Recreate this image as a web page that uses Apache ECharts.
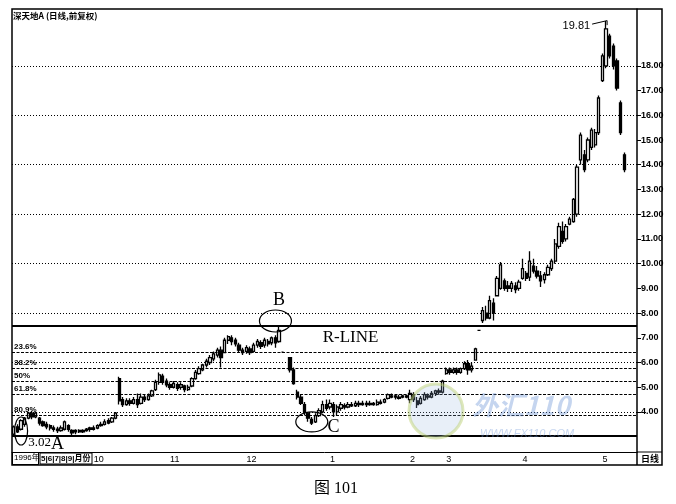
<!DOCTYPE html>
<html><head><meta charset="utf-8">
<script src="https://cdn.jsdelivr.net/npm/echarts@6/dist/echarts.min.js"></script>
<style>html,body{margin:0;padding:0;background:#fff}#c{width:676px;height:504px}</style>
</head><body><div id="c"></div>
<script>
// [open, close, low, high]
const barsSep = [
[3.10,3.40,3.02,3.45],[3.40,3.20,3.15,3.50],[3.30,3.65,3.25,3.70],[3.50,3.75,3.40,3.80],
[3.75,3.95,3.70,4.00],[3.95,3.80,3.70,4.05],[3.80,3.95,3.75,4.00],[3.75,3.55,3.45,3.80],
[3.60,3.45,3.40,3.65],[3.50,3.40,3.30,3.60],[3.45,3.35,3.25,3.50],[3.35,3.30,3.20,3.45],
[3.30,3.25,3.15,3.40],[3.25,3.35,3.20,3.45],[3.30,3.60,3.25,3.65],[3.45,3.30,3.20,3.50],
[3.25,3.15,3.05,3.30],[3.20,3.25,3.10,3.30],[3.25,3.20,3.15,3.30],[3.20,3.25,3.15,3.30],
[3.25,3.30,3.20,3.35],[3.30,3.35,3.20,3.40]
];
const barsOct = [
[3.35,3.30,3.25,3.45],[3.35,3.45,3.30,3.50],[3.45,3.50,3.40,3.60],[3.50,3.60,3.45,3.70],
[3.65,3.55,3.50,3.75],[3.60,3.75,3.55,3.80],[3.75,3.95,3.70,4.00],[5.35,4.45,4.30,5.42],
[4.50,4.30,4.20,4.60],[4.30,4.45,4.25,4.55],[4.45,4.35,4.25,4.55],[4.35,4.50,4.30,4.60],
[4.50,4.30,4.16,4.75],[4.35,4.60,4.30,4.75],[4.60,4.50,4.40,4.70],[4.50,4.65,4.45,4.75],
[4.65,4.85,4.60,4.90],[4.90,5.20,4.85,5.30],[5.20,5.50,5.10,5.60],[5.45,5.20,5.10,5.55],
[5.25,5.10,5.00,5.35]
];
const barsNov = [
[5.10,5.00,4.90,5.20],[5.00,5.15,4.95,5.25],[5.10,4.95,4.85,5.20],[5.00,5.10,4.90,5.20],
[5.05,4.90,4.80,5.10],[4.90,5.00,4.85,5.10],[5.05,5.35,5.00,5.40],[5.35,5.60,5.30,5.70],
[5.55,5.75,5.50,5.85],[5.70,5.90,5.65,5.95],[5.90,6.05,5.80,6.15],[6.00,6.20,5.90,6.30],
[6.15,6.35,6.05,6.45],[6.30,6.50,6.20,6.60],[6.50,6.20,5.80,6.65],[6.40,6.90,6.40,7.00],
[6.90,7.05,6.75,7.10],[7.00,6.85,6.70,7.10],[6.90,6.75,6.65,7.00],[6.70,6.50,6.40,6.80],
[6.50,6.40,6.30,6.60]
];
const barsDec = [
[6.45,6.60,6.35,6.70],[6.55,6.40,6.30,6.65],[6.45,6.70,6.40,6.80],[6.70,6.85,6.60,6.95],
[6.80,6.65,6.55,6.90],[6.70,6.90,6.60,7.00],[6.85,6.75,6.65,6.95],[6.80,7.00,6.70,7.05],
[7.00,6.80,6.60,7.10],[6.85,7.30,6.80,7.45],[6.42,6.42,6.40,6.44],['-','-','-','-'],
[6.20,5.70,5.60,6.20],[5.70,5.15,5.10,5.80],[4.80,4.60,4.50,4.90],[4.60,4.35,4.28,4.70],
[4.30,4.00,3.88,4.40],[3.95,3.75,3.60,4.00],[3.70,3.55,3.47,3.80],[3.60,3.85,3.55,3.95],
[3.85,4.05,3.80,4.15],[4.00,4.30,3.95,4.45],[4.30,4.15,4.05,4.50]
];
const barsJan = [
[4.20,4.35,4.10,4.50],[4.30,4.00,3.80,4.40],[4.00,4.20,3.85,4.30],[4.15,4.30,4.05,4.40],
[4.25,4.20,4.10,4.35],[4.20,4.30,4.15,4.40],[4.30,4.25,4.20,4.40],[4.25,4.35,4.20,4.45],
[4.35,4.30,4.20,4.45],[4.30,4.35,4.25,4.45],[4.35,4.30,4.20,4.45],[4.30,4.35,4.25,4.45],
[4.35,4.30,4.25,4.40],[4.30,4.40,4.25,4.50],[4.40,4.35,4.30,4.50],[4.40,4.50,4.35,4.55],
[4.55,4.70,4.50,4.75],[4.65,4.60,4.55,4.75],[4.60,4.65,4.50,4.70],[4.60,4.55,4.50,4.70],
[4.60,4.65,4.55,4.70],[4.65,4.60,4.55,4.70]
];
const barsFeb = [
[4.50,4.75,4.35,4.90],[4.70,4.50,4.40,4.80],[4.45,4.30,4.16,4.60],[4.35,4.55,4.30,4.65],
[4.50,4.70,4.45,4.80],[4.65,4.60,4.50,4.75],[4.60,4.75,4.55,4.85],[4.75,4.85,4.65,4.90],
[4.85,4.80,4.70,4.95],[4.80,5.25,4.75,5.30]
];
const barsMar = [
[5.55,5.70,5.50,5.80],[5.70,5.60,5.50,5.80],[5.60,5.70,5.55,5.80],[5.70,5.60,5.50,5.80],
[5.60,5.75,5.55,5.80],[5.75,5.95,5.70,6.05],[5.95,5.70,5.50,6.10],[5.70,5.85,5.60,6.00],
[6.10,6.55,6.10,6.60],[7.30,7.30,7.28,7.32],[7.70,8.10,7.60,8.25],[8.00,7.80,7.70,8.30],
[7.80,8.50,7.75,8.70],[8.40,8.00,7.70,8.60],[8.70,9.40,8.70,9.50],[9.00,9.95,8.94,10.07],
[9.30,9.00,8.90,9.40],[9.10,9.00,8.85,9.30],[9.00,9.20,8.85,9.30],[9.10,8.95,8.80,9.25],
[9.00,9.25,8.90,9.35]
];
const barsApr = [
[9.40,9.80,9.35,10.20],[9.60,9.40,9.30,9.70],[9.45,10.10,9.30,10.50],[9.90,9.70,9.60,10.20],
[9.70,9.50,9.40,9.90],[9.50,9.30,9.05,9.70],[9.35,9.55,9.20,9.65],[9.55,9.85,9.50,9.95],
[9.80,10.10,9.70,10.20],[10.10,10.80,10.00,11.00],[10.70,11.50,10.60,11.65],[11.30,10.90,10.80,11.70],
[11.00,11.50,10.90,11.60],[11.60,11.80,11.55,11.90],[11.70,12.60,11.65,12.65],[12.00,13.90,11.90,14.00],
[14.20,15.20,14.00,15.30],[14.40,13.80,13.70,14.60],[14.20,15.00,14.10,15.10],[14.70,15.40,14.60,15.50],
[14.80,15.30,14.70,15.45],[15.30,16.70,15.20,16.80]
];
const barsMay = [
[17.40,18.40,17.35,18.50],[18.00,19.50,17.90,19.81],[19.20,18.40,18.30,19.30],[18.80,18.00,17.85,18.90],
[18.20,17.10,17.00,18.30],[16.50,15.30,15.20,16.60],[14.40,13.80,13.70,14.50]
];

const monthTicks = [[22,'10'],[43,'11'],[64,'12'],[87,'1'],[109,'2'],[119,'3'],[140,'4'],[162,'5']];
const yTickValues = [4,5,6,7,8,9,10,11,12,13,14,15,16,17,18];
const gridValues = [4,6,8,10,12,14,16,18];
const fibLevels = [['23.6%',6.427],['38.2%',5.776],['50%',5.25],['61.8%',4.724],['80.9%',3.872]];
const rLineValue = 7.48;
const lowValue = 3.02;
const highValue = 19.81;
const highIndex = 163;
const padDays = 3;

const candles = [].concat(barsSep, barsOct, barsNov, barsDec, barsJan, barsFeb, barsMar, barsApr, barsMay);
const cats = Array.from({length: candles.length + padDays}, (_, i) => String(i));
const tickSet = new Set(monthTicks.map(m => m[0]));
const labelMap = {};
monthTicks.forEach(m => { labelMap[m[0]] = m[1]; });

const mlData = [];
gridValues.forEach(v => mlData.push({yAxis: v, lineStyle: {type: [1, 2], color: '#000', width: 1.1}, label: {show: false}}));
fibLevels.forEach(f => mlData.push({yAxis: f[1], lineStyle: {type: [3, 1.5], color: '#000', width: 1.2},
  label: {show: true, formatter: f[0], position: 'insideStartTop', distance: [2, 1], fontSize: 8, fontWeight: 'bold', color: '#000', fontFamily: 'Liberation Sans'}}));
mlData.push({yAxis: rLineValue, lineStyle: {type: 'solid', color: '#000', width: 2}, label: {show: false}});
mlData.push({yAxis: lowValue, lineStyle: {type: 'solid', color: '#000', width: 2}, label: {show: false}});

const option = {
  animation: false,
  backgroundColor: '#fff',
  grid: {left: 12, right: 39, top: 9, bottom: 52, containLabel: false},
  xAxis: [{
    type: 'category', data: cats, boundaryGap: true,
    axisLine: {lineStyle: {color: '#000', width: 1}},
    axisTick: {interval: (i) => tickSet.has(i), length: 13, lineStyle: {color: '#000', width: 1}},
    axisLabel: {interval: (i) => tickSet.has(i), formatter: (v, i) => labelMap[i] || '', align: 'left', margin: 3,
      fontSize: 9, color: '#000', fontFamily: 'Liberation Sans', hideOverlap: false}
  }, {
    type: 'category', data: cats, boundaryGap: true, position: 'bottom', gridIndex: 0,
    axisLine: {show: false},
    axisTick: {interval: (i) => i % 5 === 2 && !tickSet.has(i), length: 2, lineStyle: {color: '#000'}},
    axisLabel: {show: false}
  }],
  yAxis: {
    type: 'value', position: 'right', min: 2.38, max: 20.3, scale: true,
    axisLine: {show: true, lineStyle: {color: '#000', width: 1.5}},
    axisTick: {show: true, customValues: yTickValues, length: 4, lineStyle: {color: '#000'}},
    axisLabel: {customValues: yTickValues, formatter: (v) => Number(v).toFixed(2), fontSize: 9, fontWeight: 'bold',
      color: '#000', margin: 4, fontFamily: 'Liberation Sans'},
    splitLine: {show: false}
  },
  series: [{
    type: 'candlestick', data: candles, barWidth: 2.8,
    itemStyle: {color: '#fff', color0: '#000', borderColor: '#000', borderColor0: '#000', borderWidth: 1.3},
    markLine: {symbol: ['none', 'none'], silent: true, animation: false, data: mlData}
  }]
};

const chart = echarts.init(document.getElementById('c'));
chart.setOption(option);

const px = (i, v) => chart.convertToPixel({xAxisIndex: 0, yAxisIndex: 0}, [i, v]);
const serif = '"Liberation Serif", "DejaVu Serif", serif';
const g = [];
function txt(p, text, size, align, vAlign, family, weight) {
  g.push({type: 'text', x: p[0], y: p[1], z: 50, style: {text: text, fontSize: size, fontFamily: family || serif,
    fontWeight: weight || 'normal', fill: '#000', align: align || 'center', verticalAlign: vAlign || 'middle'}});
}
function ell(p, rx, ry) {
  g.push({type: 'ellipse', z: 50, shape: {cx: p[0], cy: p[1], rx: rx, ry: ry}, style: {fill: 'none', stroke: '#000', lineWidth: 1.2}});
}
// watermark (decorative)
g.push({type: 'circle', z: 5, shape: {cx: 436, cy: 411, r: 27}, style: {fill: 'rgba(150,180,225,0.22)', stroke: 'rgba(190,210,120,0.5)', lineWidth: 3}});
g.push({type: 'text', z: 5, x: 472, y: 405, style: {text: '外汇110', fontSize: 26, fontWeight: 'bold', fontStyle: 'italic',
  fontFamily: '"Noto Sans CJK SC", sans-serif', fill: 'rgba(110,150,215,0.4)', align: 'left', verticalAlign: 'middle'}});
g.push({type: 'text', z: 5, x: 480, y: 434, style: {text: 'WWW.FX110.COM', fontSize: 11, fontStyle: 'italic',
  fontFamily: '"Liberation Sans", sans-serif', fill: 'rgba(110,150,215,0.4)', align: 'left', verticalAlign: 'middle'}});

// annotations
ell(px(71.9, 7.68), 16, 11);
txt(px(72.7, 8.53), 'B', 18);
txt(px(84.8, 7.01), 'R-LINE', 17, 'left');
ell(px(82.1, 3.60), 16, 10);
txt(px(88.4, 3.39), 'C', 18);
ell(px(2.1, 3.23), 6.5, 14);
txt(px(3.9, 2.75), '3.02', 13, 'left');
txt(px(11.6, 2.70), 'A', 18);
const hp = px(highIndex, highValue);
txt([hp[0] - 16, hp[1] + 5], String(highValue), 11, 'right', 'middle', '"Liberation Sans", sans-serif');
g.push({type: 'polyline', z: 50, shape: {points: [[hp[0] - 14, hp[1] + 3], [hp[0] + 1, hp[1] - 0.5], [hp[0] + 1, hp[1] + 4]]},
  style: {stroke: '#000', lineWidth: 1, fill: 'none'}});

// frame and bands
g.push({type: 'rect', z: 60, shape: {x: 12, y: 9, width: 650, height: 456}, style: {fill: 'none', stroke: '#000', lineWidth: 1.5}});
g.push({type: 'line', z: 60, shape: {x1: 637, y1: 452, x2: 662, y2: 452}, style: {stroke: '#000', lineWidth: 1}});
g.push({type: 'line', z: 60, shape: {x1: 637, y1: 452, x2: 637, y2: 465}, style: {stroke: '#000', lineWidth: 1.5}});
g.push({type: 'text', z: 60, x: 641, y: 454, style: {text: '日线', fontSize: 9, fontWeight: 'bold', fontFamily: '"Noto Sans CJK SC", sans-serif', fill: '#000', align: 'left', verticalAlign: 'top'}});
g.push({type: 'rect', z: 60, shape: {x: 12.5, y: 452.5, width: 26, height: 12}, style: {fill: 'none', stroke: '#000', lineWidth: 1}});
g.push({type: 'text', z: 60, x: 14, y: 454, style: {text: '1996年', fontSize: 8, fontFamily: '"Liberation Sans", "Noto Sans CJK SC", sans-serif', fill: '#000', align: 'left', verticalAlign: 'top'}});
g.push({type: 'rect', z: 60, shape: {x: 40, y: 453, width: 52, height: 11}, style: {fill: 'none', stroke: '#000', lineWidth: 1}});
g.push({type: 'text', z: 60, x: 41, y: 454.5, style: {text: '5|6|7|8|9|月份', fontSize: 8, fontWeight: 'bold', fontFamily: '"Liberation Sans", "Noto Sans CJK SC", sans-serif', fill: '#000', align: 'left', verticalAlign: 'top'}});
// title
g.push({type: 'text', z: 60, x: 13, y: 12, style: {text: '深天地A (日线,前复权)', fontSize: 8.5, fontWeight: 'bold', fontFamily: '"Noto Sans CJK SC", sans-serif', fill: '#000', align: 'left', verticalAlign: 'top'}});
// caption
g.push({type: 'text', z: 60, x: 336, y: 489, style: {text: '图 101', fontSize: 16, fontFamily: '"Liberation Serif", "Noto Sans CJK SC", serif', fill: '#000', align: 'center', verticalAlign: 'middle'}});

chart.setOption({graphic: g});
</script>
</body></html>
